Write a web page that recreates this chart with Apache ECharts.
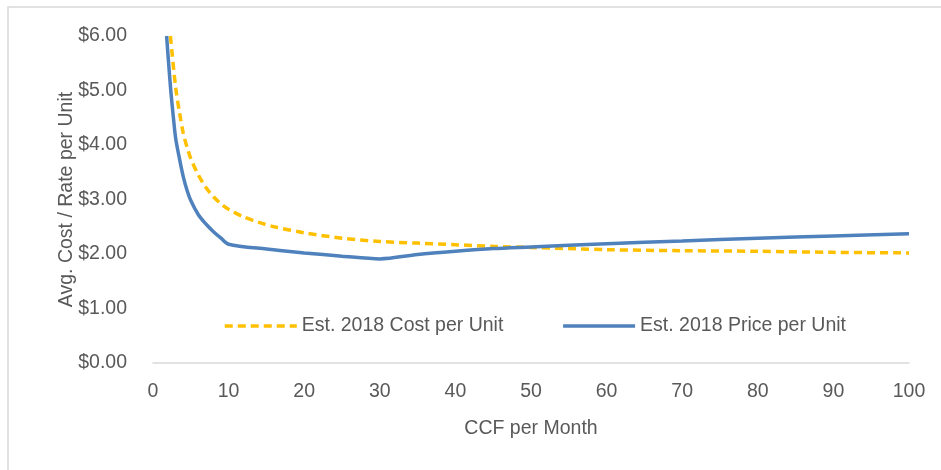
<!DOCTYPE html>
<html>
<head>
<meta charset="utf-8">
<script src="https://cdn.jsdelivr.net/npm/echarts@6/dist/echarts.min.js"></script>
<style>
  html, body { margin: 0; padding: 0; background: #fff; }
  #chart { width: 941px; height: 470px; }
</style>
</head>
<body>
<div id="chart"></div>
<script>
// CCF per month (x) and average cost per unit
const costCcf = [2.3, 2.5, 3, 3.5, 4, 4.5, 5, 6, 7, 8, 9, 10, 12, 14, 16, 20, 25, 30, 35, 40, 45, 50, 60, 70, 80, 90, 100];
const costValues = [6.0, 5.72, 5.05, 4.6, 4.22, 3.96, 3.75, 3.45, 3.22, 3.05, 2.92, 2.82, 2.68, 2.58, 2.5, 2.39, 2.29, 2.23, 2.2, 2.17, 2.14, 2.12, 2.08, 2.06, 2.05, 2.03, 2.02];

// price per unit
const priceCcf = [1.8, 2, 2.35, 2.7, 3, 3.5, 4, 4.5, 5, 6, 7, 8, 9, 10, 15, 20, 25, 30, 35, 40, 45, 50, 60, 70, 80, 90, 100];
const priceValues = [6.0, 5.62, 5.0, 4.5, 4.12, 3.75, 3.42, 3.17, 2.98, 2.72, 2.55, 2.41, 2.29, 2.18, 2.09, 2.02, 1.96, 1.91, 1.99, 2.05, 2.1, 2.13, 2.19, 2.24, 2.29, 2.33, 2.37];

const seriesNames = ['Est. 2018 Cost per Unit', 'Est. 2018 Price per Unit'];

function pairs(xs, ys) {
  return xs.map((x, i) => [x, ys[i]]);
}

const textColor = '#595959';
const font = 'Arial, "Liberation Sans", sans-serif';

let chart = echarts.init(document.getElementById('chart'), null, { renderer: 'canvas' });
chart.setOption({
  animation: false,
  textStyle: { fontFamily: font, color: textColor },
  graphic: [
    {
      type: 'rect',
      shape: { x: 8, y: 7, width: 1200, height: 1200 },
      style: { fill: 'none', stroke: '#d9d9d9', lineWidth: 1.5 },
      silent: true
    }
  ],
  grid: { left: 153, right: 32, top: 36, bottom: 107 },
  legend: {
    left: 218,
    top: 311,
    itemWidth: 72,
    itemHeight: 14,
    itemGap: 58,
    itemStyle: { opacity: 0 },
    lineStyle: { width: 3.5 },
    textStyle: { fontSize: 19.5, color: textColor, fontFamily: font },
    data: seriesNames
  },
  xAxis: {
    type: 'value',
    min: 0,
    max: 100,
    interval: 10,
    name: 'CCF per Month',
    nameLocation: 'middle',
    nameGap: 56,
    nameMoveOverlap: false,
    nameTextStyle: { fontSize: 19.5, color: textColor },
    axisLine: { show: true, onZero: false, lineStyle: { color: '#d9d9d9', width: 1.5 } },
    axisTick: { show: false },
    splitLine: { show: false },
    axisLabel: { fontSize: 19.5, color: textColor, margin: 19 }
  },
  yAxis: {
    type: 'value',
    min: 0,
    max: 6,
    interval: 1,
    name: 'Avg. Cost / Rate per Unit',
    nameLocation: 'middle',
    nameGap: 76,
    nameMoveOverlap: false,
    nameTextStyle: { fontSize: 19.5, color: textColor },
    axisLine: { show: false },
    axisTick: { show: false },
    splitLine: { show: false },
    axisLabel: {
      fontSize: 19.5,
      color: textColor,
      margin: 26,
      formatter: v => '$' + v.toFixed(2)
    }
  },
  series: [
    {
      name: seriesNames[0],
      type: 'line',
      data: pairs(costCcf, costValues),
      showSymbol: false,
      symbol: 'none',
      smooth: 0.3,
      lineStyle: { color: '#FFC000', width: 3.5, type: [8, 5] },
      itemStyle: { color: '#FFC000' }
    },
    {
      name: seriesNames[1],
      type: 'line',
      data: pairs(priceCcf, priceValues),
      showSymbol: false,
      symbol: 'none',
      smooth: 0.3,
      lineStyle: { color: '#4F81BD', width: 3.5 },
      itemStyle: { color: '#4F81BD' }
    }
  ]
});
</script>
</body>
</html>
